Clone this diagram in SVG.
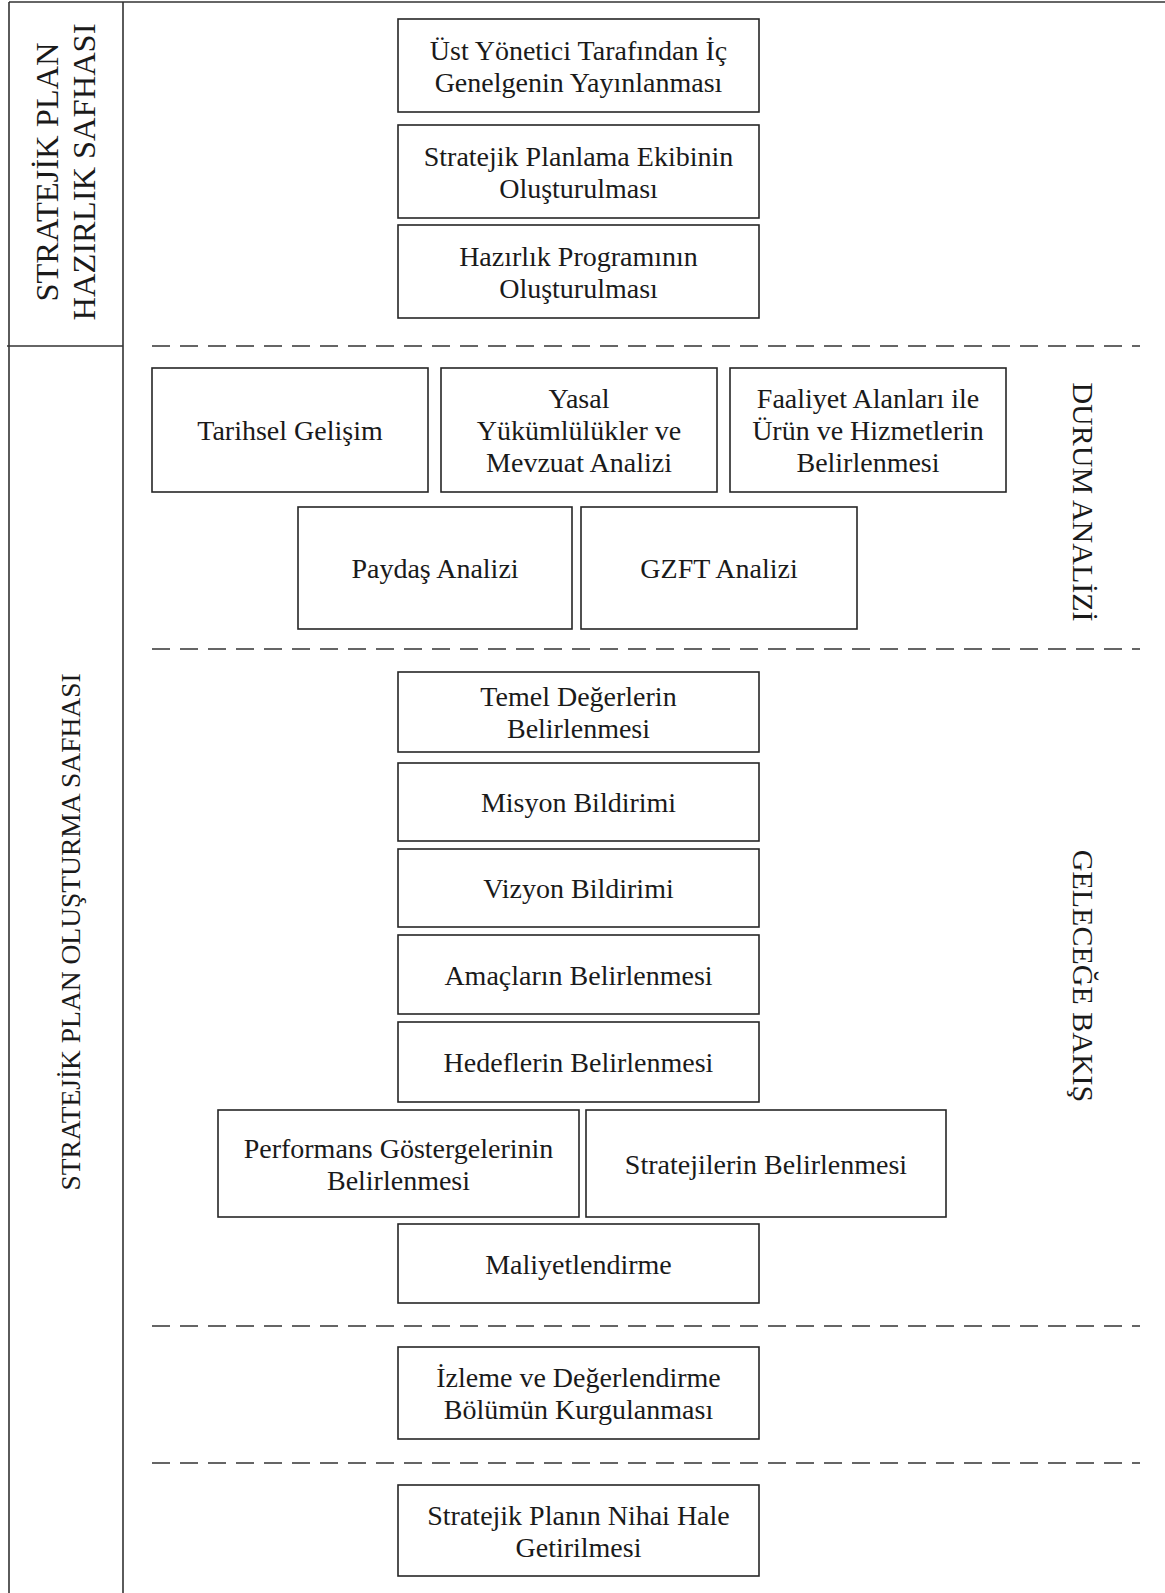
<svg xmlns="http://www.w3.org/2000/svg" width="1165" height="1593" viewBox="0 0 1165 1593">
<style>
.frame{stroke:#333;stroke-width:1.6;fill:none}
.box{fill:#fff;stroke:#262626;stroke-width:1.6}
.dash{stroke:#333;stroke-width:1.6;stroke-dasharray:18 10;fill:none}
text{font-family:"Liberation Serif","Times New Roman",serif;fill:#1a1a1a;text-anchor:middle}
.t{font-size:28px}
.side{font-size:27.5px}
.side2{font-size:30px}
.head{font-size:32.5px}
</style>
<rect width="1165" height="1593" fill="#fff"/>
<g id="frame">
<line class="frame" x1="9" y1="2" x2="1165" y2="2"/>
<line class="frame" x1="9" y1="2" x2="9" y2="1593"/>
<line class="frame" x1="123" y1="2" x2="123" y2="1593"/>
<line class="frame" x1="7" y1="346" x2="123" y2="346"/>
</g>
<g id="phase-labels">
<text class="head" transform="translate(58,172) rotate(-90)">STRATEJİK PLAN</text>
<text class="head" transform="translate(95,172) rotate(-90)">HAZIRLIK SAFHASI</text>
<text class="side" transform="translate(80,932) rotate(-90)">STRATEJİK PLAN OLUŞTURMA SAFHASI</text>
<text class="side2" transform="translate(1073,502) rotate(90)">DURUM ANALİZİ</text>
<text class="side2" transform="translate(1073,976) rotate(90)">GELECEĞE BAKIŞ</text>
</g>
<g id="connectors">
<line class="dash" x1="152" y1="346" x2="1140" y2="346"/>
<line class="dash" x1="152" y1="649" x2="1140" y2="649"/>
<line class="dash" x1="152" y1="1326" x2="1140" y2="1326"/>
<line class="dash" x1="152" y1="1463" x2="1140" y2="1463"/>
</g>
<g id="n1"><rect class="box" x="398" y="19" width="361" height="93"/><text class="t" x="578.5" y="59.5">Üst Yönetici Tarafından İç</text><text class="t" x="578.5" y="91.5">Genelgenin Yayınlanması</text></g>
<g id="n2"><rect class="box" x="398" y="125" width="361" height="93"/><text class="t" x="578.5" y="165.5">Stratejik Planlama Ekibinin</text><text class="t" x="578.5" y="197.5">Oluşturulması</text></g>
<g id="n3"><rect class="box" x="398" y="225" width="361" height="93"/><text class="t" x="578.5" y="265.5">Hazırlık Programının</text><text class="t" x="578.5" y="297.5">Oluşturulması</text></g>
<g id="n4"><rect class="box" x="152" y="368" width="276" height="124"/><text class="t" x="290" y="440">Tarihsel Gelişim</text></g>
<g id="n5"><rect class="box" x="441" y="368" width="276" height="124"/><text class="t" x="579" y="408">Yasal</text><text class="t" x="579" y="440">Yükümlülükler ve</text><text class="t" x="579" y="472">Mevzuat Analizi</text></g>
<g id="n6"><rect class="box" x="730" y="368" width="276" height="124"/><text class="t" x="868" y="408">Faaliyet Alanları ile</text><text class="t" x="868" y="440">Ürün ve Hizmetlerin</text><text class="t" x="868" y="472">Belirlenmesi</text></g>
<g id="n7"><rect class="box" x="298" y="507" width="274" height="122"/><text class="t" x="435" y="578">Paydaş Analizi</text></g>
<g id="n8"><rect class="box" x="581" y="507" width="276" height="122"/><text class="t" x="719" y="578">GZFT Analizi</text></g>
<g id="n9"><rect class="box" x="398" y="672" width="361" height="80"/><text class="t" x="578.5" y="706">Temel Değerlerin</text><text class="t" x="578.5" y="738">Belirlenmesi</text></g>
<g id="n10"><rect class="box" x="398" y="763" width="361" height="78"/><text class="t" x="578.5" y="812">Misyon Bildirimi</text></g>
<g id="n11"><rect class="box" x="398" y="849" width="361" height="78"/><text class="t" x="578.5" y="898">Vizyon Bildirimi</text></g>
<g id="n12"><rect class="box" x="398" y="935" width="361" height="79"/><text class="t" x="578.5" y="984.5">Amaçların Belirlenmesi</text></g>
<g id="n13"><rect class="box" x="398" y="1022" width="361" height="80"/><text class="t" x="578.5" y="1072">Hedeflerin Belirlenmesi</text></g>
<g id="n14"><rect class="box" x="218" y="1110" width="361" height="107"/><text class="t" x="398.5" y="1157.5">Performans Göstergelerinin</text><text class="t" x="398.5" y="1189.5">Belirlenmesi</text></g>
<g id="n15"><rect class="box" x="586" y="1110" width="360" height="107"/><text class="t" x="766" y="1173.5">Stratejilerin Belirlenmesi</text></g>
<g id="n16"><rect class="box" x="398" y="1224" width="361" height="79"/><text class="t" x="578.5" y="1273.5">Maliyetlendirme</text></g>
<g id="n17"><rect class="box" x="398" y="1347" width="361" height="92"/><text class="t" x="578.5" y="1387">İzleme ve Değerlendirme</text><text class="t" x="578.5" y="1419">Bölümün Kurgulanması</text></g>
<g id="n18"><rect class="box" x="398" y="1485" width="361" height="91"/><text class="t" x="578.5" y="1524.5">Stratejik Planın Nihai Hale</text><text class="t" x="578.5" y="1556.5">Getirilmesi</text></g>
</svg>
